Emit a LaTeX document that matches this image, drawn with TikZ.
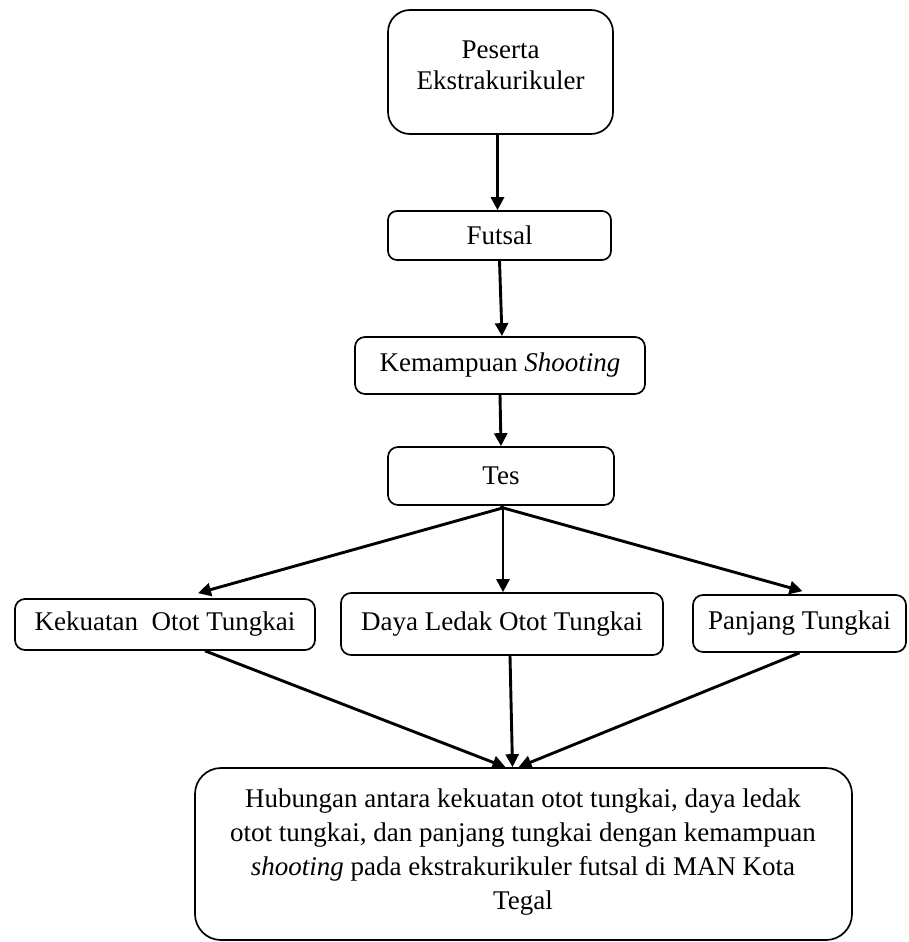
\documentclass[tikz,border=0pt]{standalone}
\usepackage{fontspec}
\setmainfont{Liberation Serif}
\usetikzlibrary{arrows.meta,calc}
\begin{document}
\begin{tikzpicture}[x=0.5pt,y=-0.5pt,
  font=\fontsize{13.5}{16.5}\selectfont,
  box/.style={draw,line width=0.85pt,inner sep=0pt,align=center},
  txt/.style={inner sep=0pt,align=center},
  conn/.style={line width=1.45pt,-{Triangle[length=6.5pt,width=6.5pt]}}]
\useasboundingbox (0,0) rectangle (909,942);
% boxes
\node[box,rounded corners=11pt,minimum width=112.5pt,minimum height=62pt] (pes) at (500.5,72) {};
\node[txt,font=\fontsize{13.5}{15.5}\selectfont] (pest) at (500.5,65) {Peserta\\Ekstrakurikuler};
\node[box,rounded corners=4.5pt,minimum width=111.5pt,minimum height=24.5pt] (fut) at (499.5,235.5) {Futsal};
\node[box,rounded corners=5pt,minimum width=145pt,minimum height=28.5pt] (kem) at (500,365.5) {Kemampuan \textit{Shooting}};
\node[box,rounded corners=5pt,minimum width=113pt,minimum height=29pt] (tes) at (501,476) {Tes};
\node[box,rounded corners=5pt,minimum width=150pt,minimum height=25.5pt] (kek) at (165,624.5) {Kekuatan\ \ Otot Tungkai};
\node[box,rounded corners=5pt,minimum width=161pt,minimum height=31pt] (day) at (502,624) {Daya Ledak Otot Tungkai};
\node[box,rounded corners=5pt,minimum width=106.5pt,minimum height=28.5pt] (pan) at (799.5,623.5) {Panjang Tungkai};
\node[box,rounded corners=13pt,minimum width=328.5pt,minimum height=86pt] (hub) at (523.5,854) {};
\node[txt,font=\fontsize{13.5}{17}\selectfont] (hubt) at (523,852) {Hubungan antara kekuatan otot tungkai, daya ledak\\otot tungkai, dan panjang tungkai dengan kemampuan\\\textit{shooting} pada ekstrakurikuler futsal di MAN Kota\\Tegal};
% connectors
\draw[conn] ($(pes.south)+(-3,0)$) -- ($(fut.north)+(-2,0)$);
\draw[conn] (fut.south) -- ($(kem.north)+(2,0)$);
\draw[conn] (kem.south) -- (tes.north);
\coordinate (br) at ($(tes.south)+(2,2)$);
\draw[line width=1.45pt] (tes.south) -- (br);
\draw[conn] (br) -- ($(kek.north)+(33,-5)$);
\draw[conn] (br) -- ($(day.north)+(1,0)$);
\draw[conn] (br) -- ($(pan.north)+(3,-3)$);
\draw[conn] ($(kek.south)+(40,0)$) -- ($(hub.north)+(-18,0)$);
\draw[conn] ($(day.south)+(8,0)$) -- ($(hub.north)+(-11,0)$);
\draw[conn] ($(pan.south)+(0,0)$) -- ($(hub.north)+(-5,0)$);
\end{tikzpicture}
\end{document}
